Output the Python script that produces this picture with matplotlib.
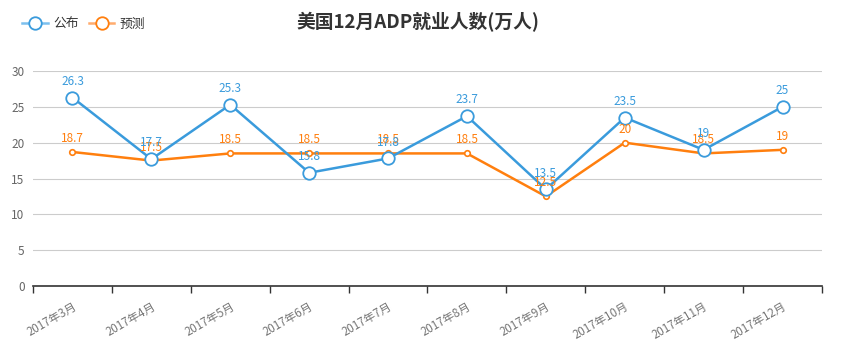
import matplotlib
matplotlib.use("Agg")
import matplotlib.pyplot as plt
from matplotlib.lines import Line2D
import numpy as np

plt.rcParams['font.family'] = ['Noto Sans CJK SC', 'DejaVu Sans']

categories = ['2017年3月', '2017年4月', '2017年5月', '2017年6月', '2017年7月',
              '2017年8月', '2017年9月', '2017年10月', '2017年11月', '2017年12月']
published = [26.3, 17.7, 25.3, 15.8, 17.8, 23.7, 13.5, 23.5, 19, 25]
forecast = [18.7, 17.5, 18.5, 18.5, 18.5, 18.5, 12.5, 20, 18.5, 19]
yticks = [0, 5, 10, 15, 20, 25, 30]

blue = '#3a9bdc'
orange = '#ff7f0e'

fig = plt.figure(figsize=(8.45, 3.54), dpi=100)
ax = fig.add_axes([33/845, 1-286/354, (822-33)/845, (286-71)/354])

x = np.arange(len(categories))
ax.plot(x, forecast, color=orange, lw=1.8, marker='o', ms=4, mfc='white',
        mec=orange, mew=1.2, zorder=3)
ax.plot(x, published, color=blue, lw=1.8, marker='o', ms=9, mfc='white',
        mec=blue, mew=1.3, zorder=4)

def fmt(v):
    return ('%g' % v)

for xi, v in zip(x, forecast):
    ax.annotate(fmt(v), (xi, v), xytext=(0, 5), textcoords='offset points',
                ha='center', va='bottom', color=orange, fontsize=8.5, zorder=5)
for xi, v in zip(x, published):
    ax.annotate(fmt(v), (xi, v), xytext=(0, 7), textcoords='offset points',
                ha='center', va='bottom', color=blue, fontsize=8.5, zorder=6)

ax.set_xlim(-0.5, len(categories) - 0.5)
ax.set_ylim(0, 30)
ax.set_yticks(yticks)
ax.set_yticklabels([str(t) for t in yticks], color='#666666', fontsize=8.5)
ax.yaxis.grid(True, color='#cccccc', lw=0.8)
ax.set_axisbelow(True)
ax.tick_params(axis='y', length=0, pad=6)

ax.set_xticks(np.arange(len(categories) + 1) - 0.5)
ax.set_xticklabels([])
ax.set_xticks(x, minor=True)
ax.set_xticklabels(categories, minor=True, rotation=30, ha='right',
                   rotation_mode='anchor', color='#777777', fontsize=8.3)
ax.tick_params(axis='x', which='major', length=5, color='#333333', width=1)
ax.tick_params(axis='x', which='minor', length=0, pad=10)

for s in ['top', 'right', 'left']:
    ax.spines[s].set_visible(False)
ax.spines['bottom'].set_color('#333333')
ax.spines['bottom'].set_linewidth(1.2)

fig.text(418/845, 1-22/354, '美国12月ADP就业人数(万人)', ha='center', va='center',
         fontsize=13.5, fontweight='bold', color='#333333')

handles = [
    Line2D([], [], color='#7cc0ee', lw=1.8, marker='o', ms=9, mfc='white',
           mec=blue, mew=1.3),
    Line2D([], [], color='#ffac6e', lw=1.8, marker='o', ms=9, mfc='white',
           mec=orange, mew=1.3),
]
fig.legend(handles, ['公布', '预测'], loc='upper left',
           bbox_to_anchor=(11/845, 1-6/354), ncol=2, frameon=False,
           fontsize=9.2, handlelength=2.0, columnspacing=0.8,
           handletextpad=0.4, labelcolor='#333333')

fig.savefig('out.png', dpi=100)
